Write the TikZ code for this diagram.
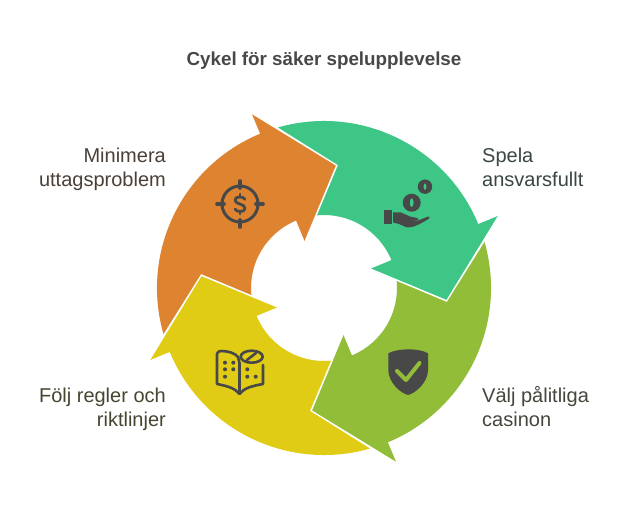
\documentclass[tikz,border=0pt]{standalone}
\usepackage{fontspec}
\setmainfont{Liberation Sans}
\definecolor{cgreen}{HTML}{3DC685}
\definecolor{colive}{HTML}{92BD39}
\definecolor{cyellow}{HTML}{E0CB15}
\definecolor{corange}{HTML}{DE8431}
\definecolor{cicon}{HTML}{484848}
\definecolor{tgreen}{HTML}{3A4844}
\definecolor{tolive}{HTML}{44473C}
\definecolor{tyellow}{HTML}{47452F}
\definecolor{torange}{HTML}{4A4038}
\newcommand{\arrowseg}[2]{%
  \begin{scope}[shift={(324,288)},y=1pt,rotate=#2]
    \fill[#1] (106:167) arc[start angle=106,end angle=22.5,radius=167]
      -- (22.5:188) -- (-5.5:123) -- (22.5:51) -- (22.5:73)
      arc[start angle=22.5,end angle=95.5,radius=73]
      -- (83.5:123.7) -- cycle;
  \end{scope}}
\tikzset{
  lbl/.style={font=\fontsize{20}{24}\selectfont,inner sep=0pt},
  iconline/.style={draw=cicon,line width=1.5pt,line cap=round,line join=round},
}
\begin{document}
\begin{tikzpicture}[x=1pt,y=-1pt]
\useasboundingbox (0,0) rectangle (624,513);
\fill[white] (0,0) rectangle (624,513);
\arrowseg{cgreen}{0}
\arrowseg{colive}{-90}
\arrowseg{cyellow}{180}
\arrowseg{corange}{90}
% title
\node[inner sep=0pt,anchor=base,text=cicon,font=\fontsize{18.8}{22}\selectfont\bfseries] (title) at (324,66) {Cykel för säker spelupplevelse};
% labels
\node[lbl,align=left,anchor=west,text=tgreen] (l1) at (482,170.2) {\strut Spela\\\strut ansvarsfullt};
\node[lbl,align=left,anchor=west,text=tolive] (l2) at (482,409.9) {\strut Välj pålitliga\\\strut casinon};
\node[lbl,align=right,anchor=east,text=tyellow] (l3) at (166,409.9) {\strut Följ regler och\\\strut riktlinjer};
\node[lbl,align=right,anchor=east,text=torange] (l4) at (166,170.2) {\strut Minimera\\\strut uttagsproblem};
% target icon
\draw[iconline,line width=3pt] (240,204) circle (18);
\foreach \a/\b/\c/\d in {240/181/240/188,240/220/240/227,217/204/224/204,256/204/263/204}
  \draw[iconline,line width=3.6pt] (\a,\b) -- (\c,\d);
\draw[iconline,line width=2.8pt] (245,199.5) .. controls (244,196) and (235,196) .. (235,200) .. controls (235,205) and (245,203) .. (245,208.5) .. controls (245,212.5) and (236,212.5) .. (235,209);
\draw[iconline,line width=2.8pt] (240,194) -- (240,197) (240,211) -- (240,214);
% hand and coins icon
\fill[cicon] (384,210) rectangle (391.7,224);
\fill[cicon] (393,212.5) -- (401,212.5) -- (410,216.5) -- (417,218) .. controls (419,218) and (419,220) .. (417,220.5) -- (406,219.5) -- (417,221) -- (428,216.5) .. controls (430,216.5) and (430,218) .. (428.5,219) .. controls (420,224) and (413,228) .. (407,227.5) -- (399,224) -- (393,222.5) -- cycle;
\fill[cicon,even odd rule] (411.7,202.7) circle (9) (411.7,202.7) ellipse (2 and 4.5);
\fill[cicon,even odd rule] (425,186.7) circle (7.2) (425,186.7) ellipse (1.5 and 3.5);
% shield icon
\fill[cicon] (388.3,353.3) .. controls (398,348) and (419,348) .. (428,353.3) -- (428,370) .. controls (428,382) and (416,393) .. (408,395) .. controls (400,393) and (388.3,382) .. (388.3,370) -- cycle;
\draw[colive,line width=4pt,line cap=round,line join=round] (397,371) -- (406,380) -- (419.5,363);
% book icon
\draw[iconline,line width=2.6pt] (217,354) .. controls (217,352) and (219,351) .. (221,351) .. controls (228,351) and (235,353) .. (238,357) -- (239.5,363) -- (239.5,393) (217,354) -- (217,384) .. controls (227,386) and (235,388) .. (239.5,394) .. controls (244,388) and (252,386) .. (263,384) -- (263,365);
\draw[iconline,line width=2.6pt] (251.7,356.7) ellipse (11 and 6);
\draw[iconline,line width=2.6pt] (247,360) -- (256,353);
\foreach \a/\b in {225/362.7,233.3/362.7,225/369.3,233.3/369.3,225/376.7,247.3/369.3,247.3/376.7,255.7/376.7}
  \fill[cicon] (\a,\b) circle (2);
\end{tikzpicture}
\end{document}
